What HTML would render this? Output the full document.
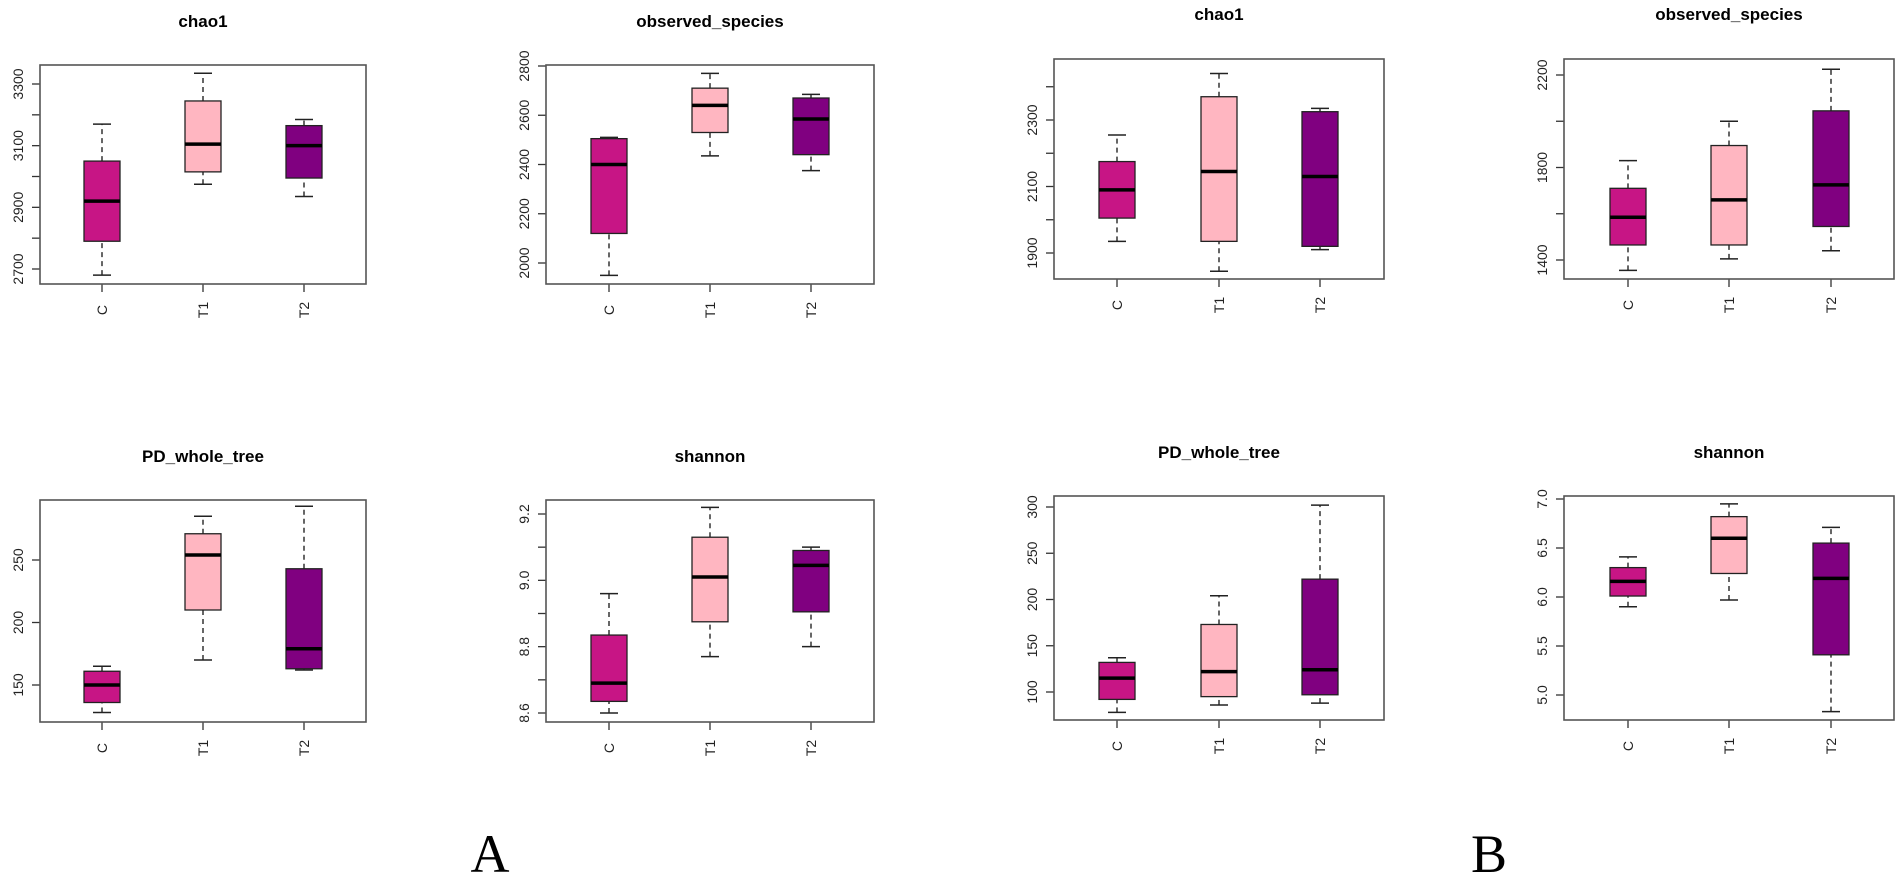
<!DOCTYPE html>
<html><head><meta charset="utf-8"><style>
body{margin:0;background:#fff;}
svg{display:block;font-family:"Liberation Sans",sans-serif;}
</style></head><body>
<svg id="fig" width="1902" height="876" viewBox="0 0 1902 876" xmlns="http://www.w3.org/2000/svg">
<text x="490" y="872" font-family="Liberation Serif, serif" font-size="54" text-anchor="middle">A</text>
<text x="1489" y="872" font-family="Liberation Serif, serif" font-size="54" text-anchor="middle">B</text>
</svg>
<script>
const groups = ["C","T1","T2"];
const colors = ["#C71585","#FFB6C1","#800080"];
// per panel data: [whiskerLow, q1, median, q3, whiskerHigh] per group
const titles = ["chao1","observed_species","PD_whole_tree","shannon","chao1","observed_species","PD_whole_tree","shannon"];
const a1Data = [[2680,2790,2920,3050,3170],[2975,3015,3105,3245,3335],[2935,2995,3100,3165,3185]];
const a2Data = [[1950,2120,2400,2505,2510],[2435,2530,2640,2710,2770],[2375,2440,2585,2670,2685]];
const a3Data = [[128,136,150,161,165],[170,210,254,271,285],[162,163,179,243,293]];
const a4Data = [[8.60,8.635,8.69,8.835,8.96],[8.77,8.875,9.01,9.13,9.22],[8.80,8.905,9.045,9.09,9.10]];
const b1Data = [[1935,2005,2090,2175,2255],[1845,1935,2145,2370,2440],[1910,1920,2130,2325,2335]];
const b2Data = [[1355,1465,1585,1710,1830],[1405,1465,1660,1895,2000],[1440,1545,1725,2045,2225]];
const b3Data = [[78,92,115,132,137],[86,95,122,173,204],[88,97,124,222,302]];
const b4Data = [[5.90,6.01,6.16,6.30,6.41],[5.97,6.24,6.60,6.82,6.95],[4.83,5.41,6.19,6.55,6.71]];
const a1Ticks = [2700,2800,2900,3000,3100,3200,3300];
const a1Labels = ["2700","","2900","","3100","","3300"];
const a2Ticks = [2000,2200,2400,2600,2800];
const a2Labels = ["2000","2200","2400","2600","2800"];
const a3Ticks = [150,200,250];
const a3Labels = ["150","200","250"];
const a4Ticks = [8.6,8.7,8.8,8.9,9.0,9.1,9.2];
const a4Labels = ["8.6","","8.8","","9.0","","9.2"];
const b1Ticks = [1900,2000,2100,2200,2300,2400];
const b1Labels = ["1900","","2100","","2300",""];
const b2Ticks = [1400,1600,1800,2000,2200];
const b2Labels = ["1400","","1800","","2200"];
const b3Ticks = [100,150,200,250,300];
const b3Labels = ["100","150","200","250","300"];
const b4Ticks = [5.0,5.5,6.0,6.5,7.0];
const b4Labels = ["5.0","5.5","6.0","6.5","7.0"];

// layout: frame, y-scale calibration (value->pixel), title y
const panels = [
 {d:a1Data,t:a1Ticks,l:a1Labels,f:[40,366,65,284],cal:[2700,269,3300,84],ty:27,cx:[102,203,304]},
 {d:a2Data,t:a2Ticks,l:a2Labels,f:[546,874,65,284],cal:[2000,263,2800,66],ty:27,cx:[609,710,811]},
 {d:a3Data,t:a3Ticks,l:a3Labels,f:[40,366,500,722],cal:[150,685,250,560],ty:462,cx:[102,203,304]},
 {d:a4Data,t:a4Ticks,l:a4Labels,f:[546,874,500,722],cal:[8.6,713,9.2,514],ty:462,cx:[609,710,811]},
 {d:b1Data,t:b1Ticks,l:b1Labels,f:[1054,1384,59,279],cal:[1900,253,2300,120],ty:20,cx:[1117,1219,1320]},
 {d:b2Data,t:b2Ticks,l:b2Labels,f:[1564,1894,59,279],cal:[1400,260,2200,75],ty:20,cx:[1628,1729,1831]},
 {d:b3Data,t:b3Ticks,l:b3Labels,f:[1054,1384,496,720],cal:[100,692,300,507],ty:458,cx:[1117,1219,1320]},
 {d:b4Data,t:b4Ticks,l:b4Labels,f:[1564,1894,496,720],cal:[5.0,695,7.0,499],ty:458,cx:[1628,1729,1831]}
];
const NS="http://www.w3.org/2000/svg";
const svg=document.getElementById('fig');
function mk(tag,attrs,parent){const e=document.createElementNS(NS,tag);for(const k in attrs)e.setAttribute(k,attrs[k]);parent.appendChild(e);return e;}
panels.forEach((p,pi)=>{
  const g=mk('g',{},svg);
  
  
  const [x0,x1,y0,y1]=p.f;
  const [v1,p1,v2,p2]=p.cal;
  const y=v=>p1+(v-v1)*(p2-p1)/(v2-v1);
  const title=mk('text',{x:(x0+x1)/2,y:p.ty,'font-size':17,'font-weight':'bold','text-anchor':'middle'},g);
  title.textContent=titles[pi];
  
  
  p.d.forEach((s,i)=>{
    const cx=p.cx[i], hw=18, cw=9;
    const bg=mk('g',{},g);
    
    
    mk('line',{x1:cx,x2:cx,y1:y(s[0]),y2:y(s[1]),stroke:'#333','stroke-width':1.5,'stroke-dasharray':'5,4'},bg);
    mk('line',{x1:cx,x2:cx,y1:y(s[3]),y2:y(s[4]),stroke:'#333','stroke-width':1.5,'stroke-dasharray':'5,4'},bg);
    mk('line',{x1:cx-cw,x2:cx+cw,y1:y(s[0]),y2:y(s[0]),stroke:'#222','stroke-width':1.5},bg);
    mk('line',{x1:cx-cw,x2:cx+cw,y1:y(s[4]),y2:y(s[4]),stroke:'#222','stroke-width':1.5},bg);
    mk('rect',{x:cx-hw,y:y(s[3]),width:hw*2,height:y(s[1])-y(s[3]),fill:colors[i],stroke:'#222','stroke-width':1.3},bg);
    mk('line',{x1:cx-hw,x2:cx+hw,y1:y(s[2]),y2:y(s[2]),stroke:'#000','stroke-width':3.5},bg);
    mk('line',{x1:cx,x2:cx,y1:y1,y2:y1+8,stroke:'#333','stroke-width':1.3},g);
    const xl=mk('text',{x:0,y:0,'font-size':14,'text-anchor':'middle',fill:'#222',transform:`translate(${cx+5},${y1+26}) rotate(-90)`},g);
    xl.textContent=groups[i];
    
    
  });
  p.t.forEach((v,i)=>{
    const ty=y(v);
    mk('line',{x1:x0-8,x2:x0,y1:ty,y2:ty,stroke:'#333','stroke-width':1.3},g);
    if(p.l[i]){
      const tl=mk('text',{x:0,y:0,'font-size':14,'text-anchor':'middle',fill:'#222',transform:`translate(${x0-17},${ty}) rotate(-90)`},g);
      tl.textContent=p.l[i];
      
      
    }
  });
  const fr=mk('rect',{x:x0,y:y0,width:x1-x0,height:y1-y0,fill:'none',stroke:'#555','stroke-width':1.6},g);
  
  
});
</script>
</body></html>
